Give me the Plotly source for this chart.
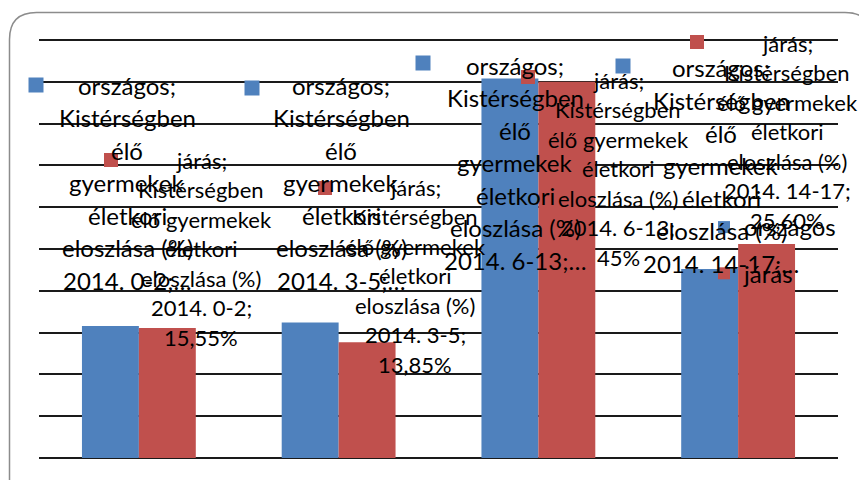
import plotly.graph_objects as go

categories = ["2014. 0-2", "2014. 3-5", "2014. 6-13", "2014. 14-17"]
orszagos = [15.8, 16.2, 45.4, 22.6]
jaras = [15.55, 13.85, 45.0, 25.60]
series_names = ["országos", "járás"]
label_title = ["Kistérségben", "élő", "gyermekek", "életkori", "eloszlása (%)"]

BLUE = "#4F81BD"
RED = "#C0504D"
FONT = "Lato"

# gridline span in pixels (859x480 page); plot area padded so the 50% line is drawn
L, R, GT, GB = 39, 838, 40, 458
PAD = 4
T, B = GT - PAD, GB + PAD
ymax = 50
pad_units = PAD * ymax / (GB - GT)


def px(x, y):
    return (x - L) / (R - L), (B - y) / (B - T)


def pct(v):
    if float(v).is_integer():
        return f"{int(v)}%"
    return f"{v:.2f}".replace(".", ",") + "%"


fig = go.Figure()
fig.add_bar(x=categories, y=orszagos, name=series_names[0], marker_color=BLUE,
            marker_line_width=0, legendgroup="a")
fig.add_bar(x=categories, y=jaras, name=series_names[1], marker_color=RED,
            marker_line_width=0, legendgroup="b")

# data label placement: text centre x, first line y, key centre x/y (pixels)
blue_pos = [(127, 85, 36, 85), (341, 85, 252, 88), (515, 65, 423, 63), (721, 68, 623, 66)]
red_pos = [(201, 160, 111, 160), (415, 187, 325, 188), (618, 80, 528, 77), (787, 43, 697, 42)]

annotations = []
shapes = []
for i, cat in enumerate(categories):
    blue_lines = [series_names[0] + ";"] + label_title + [cat + ";…"]
    red_lines = [series_names[1] + ";", label_title[0], label_title[1] + " " + label_title[2],
                 label_title[3], label_title[4], cat + ";", pct(jaras[i])]
    for lines, pos, size, step, col, k in [(blue_lines, blue_pos[i], 24, 32.6, BLUE, 15),
                                           (red_lines, red_pos[i], 22, 29.5, RED, 14)]:
        tx, ty, kx, ky = pos
        for j, line in enumerate(lines):
            ax, ay = px(tx, ty + j * step)
            annotations.append(dict(x=ax, y=ay, xref="paper", yref="paper", text=line,
                                    showarrow=False, xanchor="center", yanchor="middle",
                                    font=dict(size=size, color="black", family=FONT)))
        x0, y0 = px(kx - k / 2, ky + k / 2)
        x1, y1 = px(kx + k / 2, ky - k / 2)
        shapes.append(dict(type="rect", xref="paper", yref="paper", x0=x0, y0=y0, x1=x1, y1=y1,
                           fillcolor=col, line_width=0, layer="above"))

# rounded chart border
r = 27
left, top, right, bottom = 9.5, 12.5, 872, 492
pts = [px(left, bottom), px(left, top + r), px(left, top), px(left + r, top),
       px(right - r, top), px(right, top), px(right, top + r), px(right, bottom)]
path = "M{},{} L{},{} Q{},{} {},{} L{},{} Q{},{} {},{} L{},{}".format(*[c for p in pts for c in p])
shapes.append(dict(type="path", path=path, xref="paper", yref="paper",
                   line=dict(color="#8c8c8c", width=1.5), layer="below"))

fig.update_layout(
    width=859, height=480,
    margin=dict(l=L, r=859 - R, t=T, b=480 - B, autoexpand=False),
    paper_bgcolor="white", plot_bgcolor="white",
    barmode="group", bargap=0.43, bargroupgap=0,
    font=dict(family=FONT, color="black"),
    xaxis=dict(showticklabels=False, ticks="", showgrid=False, zeroline=False, showline=False),
    yaxis=dict(range=[-pad_units, ymax + pad_units], tick0=0, dtick=5, showticklabels=False,
               ticks="", showgrid=True, gridcolor="#1a1a1a", gridwidth=2,
               zeroline=False, showline=False),
    legend=dict(x=px(704, 0)[0], y=px(0, 205)[1], xanchor="left", yanchor="top",
                bgcolor="rgba(0,0,0,0)", font=dict(size=24, family=FONT, color="black"),
                tracegroupgap=12, itemwidth=30),
    annotations=annotations,
    shapes=shapes,
)

fig.write_html("out.html", config={"displayModeBar": False},
               post_script="document.body.style.margin='0';")
